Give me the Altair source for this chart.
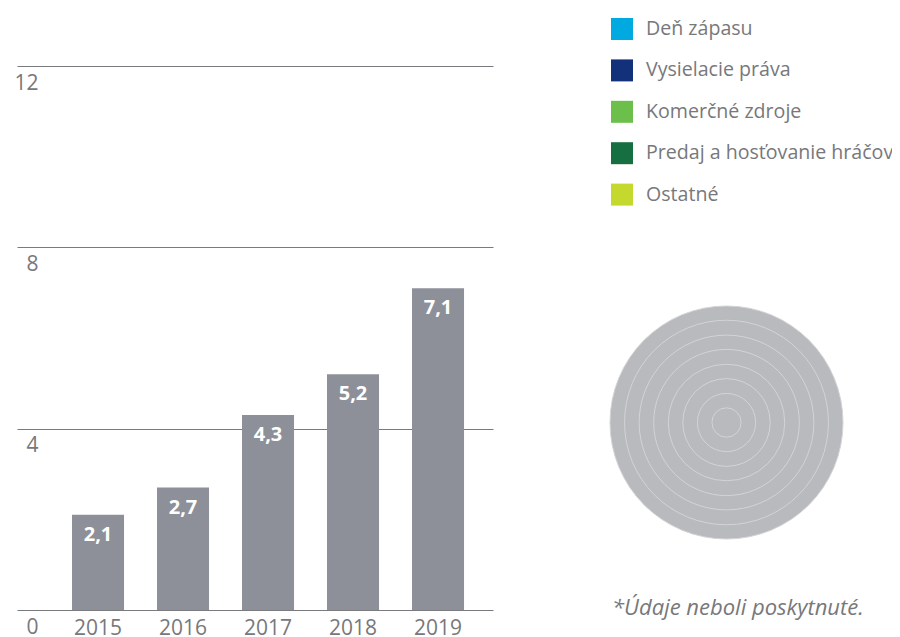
import altair as alt
import pandas as pd

years = ["2015", "2016", "2017", "2018", "2019"]
values = [2.1, 2.7, 4.3, 5.2, 7.1]
value_labels = ["2,1", "2,7", "4,3", "5,2", "7,1"]
y_ticks = [0, 4, 8, 12]
categories = ["Deň zápasu", "Vysielacie práva", "Komerčné zdroje",
              "Predaj a hosťovanie hráčov", "Ostatné"]
category_colors = ["#00a9e0", "#12317a", "#6cbf4b", "#166f41", "#c4d82e"]
ring_levels = [8, 7, 6, 5, 4, 3, 2, 1]
footnote = ["*Údaje neboli poskytnuté."]

FONT = "Open Sans"
GREY = "#77787b"
BAR = "#8d9099"

bars_df = pd.DataFrame({"rok": years, "hodnota": values, "popis": value_labels})
legend_df = pd.DataFrame({"kategoria": categories})
ring_df = pd.DataFrame({"kruh": ring_levels})
note_df = pd.DataFrame({"t": footnote})

x = alt.X(
    "rok:N", sort=years, title=None,
    scale=alt.Scale(paddingInner=0.388, paddingOuter=0.494, align=0.655),
    axis=alt.Axis(labelFontSize=21, labelFont=FONT, labelColor=GREY, labelAngle=0,
                  ticks=False, domain=False, labelPadding=18, labelBaseline="middle"),
)
y = alt.Y(
    "hodnota:Q", title=None,
    scale=alt.Scale(domain=[0, 12]),
    axis=alt.Axis(values=y_ticks, grid=True, gridColor="#7a7b7e", gridWidth=1,
                  domain=False, ticks=False, labelAlign="right", labelPadding=-21,
                  labelOffset=17, labelBaseline="middle", labelFontSize=21,
                  labelFont=FONT, labelColor=GREY),
)

bars = alt.Chart(bars_df).mark_bar(color=BAR).encode(x=x, y=y)

bar_text = alt.Chart(bars_df).mark_text(
    color="white", fontWeight="bold", fontSize=20, font=FONT, baseline="middle", dy=20
).encode(x=alt.X("rok:N", sort=years), y="hodnota:Q", text="popis:N")

legend_layer = alt.Chart(legend_df).mark_point(filled=True, opacity=0).encode(
    x=alt.value(0), y=alt.value(0),
    color=alt.Color(
        "kategoria:N", sort=categories,
        scale=alt.Scale(domain=categories, range=category_colors),
        legend=alt.Legend(title=None, orient="none", legendX=594, legendY=-48,
                          symbolType="square", symbolSize=484, symbolOpacity=1,
                          symbolStrokeWidth=0, labelFontSize=19.6, labelFont=FONT,
                          labelColor=GREY, labelOffset=13, rowPadding=19.4, padding=0,
                          labelLimit=400),
    ),
)

rings = alt.Chart(ring_df).mark_point(
    shape="circle", filled=True, opacity=1, fill="#b9babd", stroke="#d3d4d6",
    strokeWidth=1, strokeOpacity=1, fillOpacity=1
).encode(
    x=alt.value(709.5), y=alt.value(356.5),
    size=alt.Size("kruh:Q", legend=None,
                  scale=alt.Scale(type="pow", exponent=2, zero=True,
                                  domain=[0, 8], range=[0, 54289])),
)

note = alt.Chart(note_df).mark_text(
    align="left", baseline="middle", fontSize=22, font=FONT, fontStyle="italic", color=GREY
).encode(x=alt.value(595), y=alt.value(542), text="t:N")

chart = alt.layer(bars, bar_text, rings, note, legend_layer).properties(
    width=476, height=544,
    autosize=alt.AutoSizeParams(type="none"),
    padding={"left": 9, "top": 58, "right": 399, "bottom": 27},
).configure_view(stroke=None)

chart.save("out.html", embed_options={"renderer": "svg", "actions": False})
